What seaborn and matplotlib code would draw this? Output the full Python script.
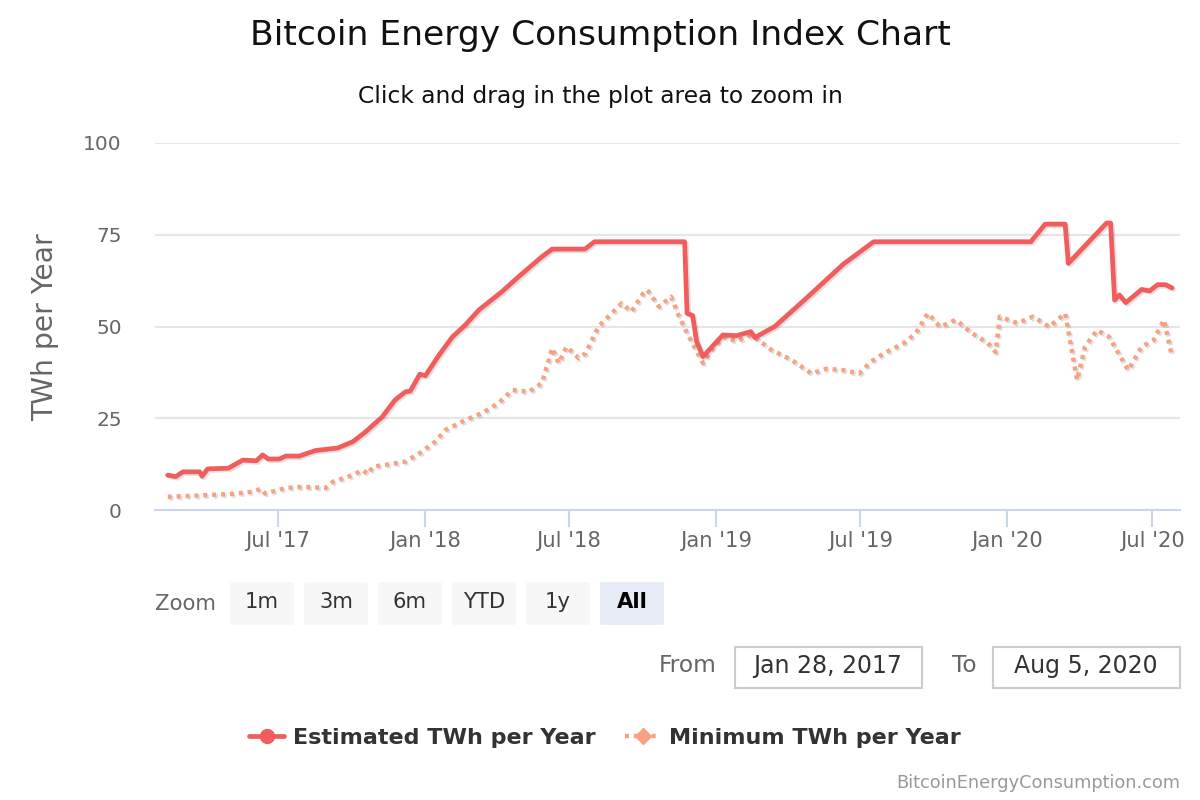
import pandas as pd
import seaborn as sns
import matplotlib.pyplot as plt
import matplotlib.patheffects as pe
from matplotlib.lines import Line2D
from matplotlib.patches import FancyBboxPatch, Rectangle

# --- dados ---
est_dates = ['2017-02-13', '2017-02-23', '2017-03-04', '2017-03-25', '2017-03-28', '2017-04-04',
             '2017-04-30', '2017-05-18', '2017-06-04', '2017-06-12', '2017-06-19', '2017-07-03',
             '2017-07-11', '2017-07-28', '2017-08-17', '2017-09-14', '2017-10-03', '2017-10-19',
             '2017-11-09', '2017-11-25', '2017-12-08', '2017-12-14', '2017-12-26', '2018-01-02',
             '2018-01-19', '2018-02-05', '2018-02-21', '2018-03-10', '2018-04-08', '2018-04-29',
             '2018-05-28', '2018-06-10', '2018-07-21', '2018-08-02', '2018-11-23', '2018-11-26',
             '2018-12-03', '2018-12-08', '2018-12-16', '2019-01-10', '2019-01-27', '2019-02-14',
             '2019-02-19', '2019-03-16', '2019-04-21', '2019-06-10', '2019-07-18', '2020-01-31',
             '2020-02-18', '2020-03-14', '2020-03-18', '2020-05-05', '2020-05-10', '2020-05-15',
             '2020-05-21', '2020-05-29', '2020-06-18', '2020-06-28', '2020-07-08', '2020-07-18',
             '2020-07-26']
est_twh = [9.5, 9.1, 10.4, 10.4, 9.2, 11.2,
           11.4, 13.6, 13.4, 15.0, 13.9, 13.9,
           14.7, 14.7, 16.2, 16.9, 18.6, 21.3,
           25.4, 30.0, 32.2, 32.4, 37.0, 36.6,
           42.2, 47.2, 50.4, 54.5, 59.5, 63.6,
           69.0, 71.1, 71.1, 73.1, 73.1, 53.6,
           53.0, 45.9, 41.8, 47.7, 47.5, 48.6,
           47.0, 50.0, 57.0, 67.0, 73.1, 73.1,
           77.9, 77.9, 67.2, 78.2, 78.2, 57.2,
           58.6, 56.5, 60.1, 59.7, 61.4, 61.4,
           60.5]

min_dates = ['2017-02-13', '2017-03-29', '2017-05-06', '2017-05-31', '2017-06-10', '2017-06-15',
             '2017-07-11', '2017-08-01', '2017-08-30', '2017-09-08', '2017-10-03', '2017-10-15',
             '2017-10-22', '2017-10-28', '2017-11-13', '2017-12-08', '2017-12-26', '2018-01-14',
             '2018-01-27', '2018-02-21', '2018-03-14', '2018-04-04', '2018-04-21', '2018-05-12',
             '2018-05-28', '2018-06-10', '2018-06-18', '2018-06-28', '2018-07-13', '2018-07-22',
             '2018-08-07', '2018-09-05', '2018-09-17', '2018-10-02', '2018-10-07', '2018-10-22',
             '2018-11-06', '2018-11-16', '2018-11-26', '2018-12-16', '2018-12-27', '2019-01-10',
             '2019-01-27', '2019-02-15', '2019-03-12', '2019-04-06', '2019-05-01', '2019-05-20',
             '2019-06-10', '2019-06-30', '2019-07-15', '2019-07-31', '2019-08-25', '2019-09-09',
             '2019-09-24', '2019-10-09', '2019-10-29', '2019-11-18', '2019-12-08', '2019-12-18',
             '2019-12-23', '2020-01-14', '2020-02-03', '2020-02-23', '2020-03-14', '2020-03-29',
             '2020-04-08', '2020-04-23', '2020-05-08', '2020-06-01', '2020-06-18', '2020-07-03',
             '2020-07-16', '2020-07-26']
min_twh = [3.6, 4.0, 4.4, 5.0, 5.8, 4.5,
           6.0, 6.3, 6.0, 7.7, 9.5, 10.9,
           9.8, 11.8, 12.3, 13.2, 15.5, 18.6,
           21.8, 24.5, 26.4, 29.2, 32.7, 32.2,
           34.6, 44.1, 40.0, 44.5, 41.4, 42.7,
           50.0, 56.3, 54.0, 59.0, 60.0, 55.4,
           58.1, 52.7, 48.2, 40.0, 44.0, 47.2,
           46.0, 47.7, 43.6, 40.9, 37.2, 38.5,
           38.1, 37.2, 40.5, 42.7, 45.5, 48.2,
           53.6, 49.9, 51.8, 48.2, 45.5, 43.0,
           52.7, 50.9, 52.7, 49.9, 53.6, 35.4,
           44.5, 49.0, 47.2, 38.1, 44.5, 46.3,
           51.8, 41.8]

tick_dates = ['2017-07-01', '2018-01-01', '2018-07-01', '2019-01-01',
              '2019-07-01', '2020-01-01', '2020-07-01']
tick_labels = ["Jul '17", "Jan '18", "Jul '18", "Jan '19", "Jul '19", "Jan '20", "Jul '20"]
y_ticks = [0, 25, 50, 75, 100]
zoom_buttons = ['1m', '3m', '6m', 'YTD', '1y', 'All']
series_names = ['Estimated TWh per Year', 'Minimum TWh per Year']

RED = '#f15c5c'
SALMON = '#f8a183'
GRAY = '#666666'

sns.set_theme(style='white')
plt.rcParams['font.family'] = ['DejaVu Sans']

W, H = 1200, 800
fig = plt.figure(figsize=(12, 8), dpi=100)
ax = fig.add_axes([155 / W, 1 - 510 / H, (1180 - 155) / W, (510 - 143) / H])

shadow = [pe.SimpleLineShadow(offset=(1.2, -1.2), shadow_color='black', alpha=0.12), pe.Normal()]

df_est = pd.DataFrame({'date': pd.to_datetime(est_dates), 'twh': est_twh})
df_min = pd.DataFrame({'date': pd.to_datetime(min_dates), 'twh': min_twh})

sns.lineplot(data=df_est, x='date', y='twh', ax=ax, color=RED, linewidth=3.4,
             path_effects=shadow, zorder=4)
sns.lineplot(data=df_min, x='date', y='twh', ax=ax, color=SALMON, linewidth=3.2,
             linestyle=(0, (0.9, 1.1)), path_effects=shadow, zorder=3)

ax.set_xlim(pd.Timestamp('2017-01-28'), pd.Timestamp('2020-08-05'))
ax.set_ylim(0, 100)
ax.set_xticks(pd.to_datetime(tick_dates))
ax.set_xticklabels(tick_labels)
ax.set_yticks(y_ticks)
ax.set_xlabel('')
ax.set_ylabel('')

for s in ['top', 'right', 'left']:
    ax.spines[s].set_visible(False)
ax.spines['bottom'].set_color('#ccd6eb')
ax.spines['bottom'].set_linewidth(1.5)
ax.grid(axis='y', color='#e6e6e6', linewidth=1.5)
ax.grid(axis='x', visible=False)
ax.tick_params(axis='x', length=12, width=1.5, color='#ccd6eb', pad=3,
               labelsize=15.2, labelcolor=GRAY, direction='out', bottom=True)
ax.tick_params(axis='y', length=0, pad=24, labelsize=14.5, labelcolor=GRAY)

# títulos
fig.text(600 / W, 1 - 36 / H, 'Bitcoin Energy Consumption Index Chart', ha='center', va='center',
         fontsize=24.8, color='#111111')
fig.text(600 / W, 1 - 96 / H, 'Click and drag in the plot area to zoom in', ha='center', va='center',
         fontsize=16.8, color='#111111')
fig.text(45 / W, 1 - 327 / H, 'TWh per Year', rotation=90, ha='center', va='center',
         fontsize=20.3, color=GRAY)

# seletor de zoom
fig.text(155 / W, 1 - 604 / H, 'Zoom', ha='left', va='center', fontsize=15.2, color=GRAY)
for i, lab in enumerate(zoom_buttons):
    x0 = 230 + i * 74
    face = '#e6ebf5' if lab == 'All' else '#f7f7f7'
    fig.patches.append(FancyBboxPatch((x0 / W, 1 - 625 / H), 64 / W, 43 / H,
                                      boxstyle='round,pad=0,rounding_size=0.002',
                                      transform=fig.transFigure, facecolor=face,
                                      edgecolor='none'))
    fig.text((x0 + 32) / W, 1 - 602 / H, lab, ha='center', va='center', fontsize=15.2,
             color='black' if lab == 'All' else '#333333',
             fontweight='bold' if lab == 'All' else 'normal')

# campos de data
fig.text(717 / W, 1 - 666 / H, 'From', ha='right', va='center', fontsize=16.8, color=GRAY)
fig.text(977 / W, 1 - 666 / H, 'To', ha='right', va='center', fontsize=16.8, color=GRAY)
for x0, lab in [(735, 'Jan 28, 2017'), (993, 'Aug 5, 2020')]:
    fig.patches.append(Rectangle((x0 / W, 1 - 688 / H), 187 / W, 41 / H,
                                 transform=fig.transFigure, facecolor='white',
                                 edgecolor='#cccccc', linewidth=1.5))
    fig.text((x0 + 93) / W, 1 - 666 / H, lab, ha='center', va='center', fontsize=17,
             color='#333333')

# legenda
handles = [Line2D([], [], color=RED, lw=3.4, marker='o', markersize=10),
           Line2D([], [], color=SALMON, lw=3.2, linestyle=(0, (0.9, 1.1)), marker='D',
                  markersize=8)]
fig.legend(handles, series_names, loc='center', bbox_to_anchor=(605 / W, 1 - 738 / H), ncol=2,
           frameon=False, handlelength=1.6, columnspacing=1.3, handletextpad=0.4,
           prop={'weight': 'bold', 'size': 16}, labelcolor='#333333')

fig.text(1180 / W, 1 - 783 / H, 'BitcoinEnergyConsumption.com', ha='right', va='center',
         fontsize=12.8, color='#999999')

fig.savefig('out.png', dpi=100)
